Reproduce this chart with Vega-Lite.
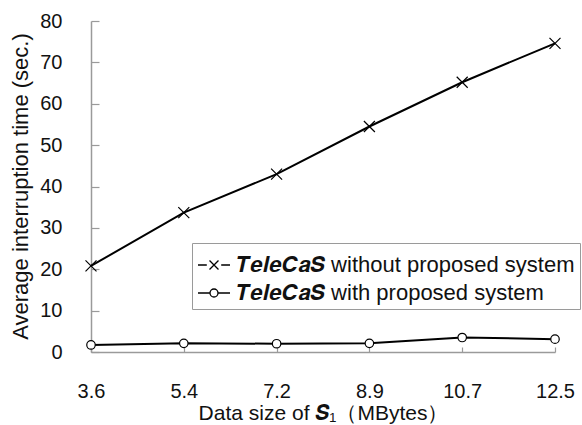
{
  "$schema": "https://vega.github.io/schema/vega-lite/v6.json",
  "width": 464,
  "height": 331,
  "autosize": {"type": "none"},
  "padding": {"left": 91, "top": 21, "right": 27, "bottom": 73},
  "background": "white",
  "config": {
    "view": {"stroke": null},
    "font": "Liberation Sans",
    "axis": {
      "grid": false,
      "domainColor": "#9a9a9a",
      "domainWidth": 1.5,
      "tickColor": "#9a9a9a",
      "tickWidth": 1.2,
      "labelFont": "Liberation Sans",
      "labelFontSize": 20,
      "labelColor": "#111111",
      "titleFont": "Liberation Sans",
      "titleFontSize": 21,
      "titleFontWeight": "normal",
      "titleColor": "#111111"
    }
  },
  "data": {
    "values": [
      {"size": "3.6", "series": "without", "time": 20.8},
      {"size": "5.4", "series": "without", "time": 33.7},
      {"size": "7.2", "series": "without", "time": 43.0},
      {"size": "8.9", "series": "without", "time": 54.5},
      {"size": "10.7", "series": "without", "time": 65.2},
      {"size": "12.5", "series": "without", "time": 74.6},
      {"size": "3.6", "series": "with", "time": 1.7},
      {"size": "5.4", "series": "with", "time": 2.1},
      {"size": "7.2", "series": "with", "time": 2.0},
      {"size": "8.9", "series": "with", "time": 2.1},
      {"size": "10.7", "series": "with", "time": 3.5},
      {"size": "12.5", "series": "with", "time": 3.1}
    ]
  },
  "encoding": {
    "x": {
      "field": "size",
      "type": "ordinal",
      "scale": {"type": "point", "padding": 0, "domain": ["3.6", "5.4", "7.2", "8.9", "10.7", "12.5"]},
      "axis": {
        "title": "Data size of 𝑺₁（MBytes）",
        "labelAngle": 0,
        "tickSize": -5,
        "labelPadding": 34,
        "titleX": 232,
        "titleY": 67,
        "titleBaseline": "alphabetic",
        "titleAnchor": "middle"
      }
    },
    "y": {
      "field": "time",
      "type": "quantitative",
      "scale": {"domain": [0, 80], "nice": false},
      "axis": {
        "title": "Average interruption time (sec.)",
        "values": [0, 10, 20, 30, 40, 50, 60, 70, 80],
        "tickSize": -8,
        "labelPadding": 37,
        "titleFontSize": 22,
        "titleX": -71,
        "titleY": 165,
        "titleBaseline": "middle",
        "titleAnchor": "middle"
      }
    }
  },
  "layer": [
    {
      "mark": {"type": "line", "color": "black", "strokeWidth": 2},
      "encoding": {"detail": {"field": "series"}}
    },
    {
      "mark": {"type": "point", "filled": false, "stroke": "black", "strokeWidth": 1.2, "opacity": 1},
      "encoding": {
        "shape": {
          "condition": {"test": "datum.series == 'without'", "value": "M-1,-1L1,1M-1,1L1,-1"},
          "value": "circle"
        },
        "size": {
          "condition": {"test": "datum.series == 'without'", "value": 121},
          "value": 72
        },
        "fill": {
          "condition": {"test": "datum.series == 'with'", "value": "white"},
          "value": "transparent"
        }
      }
    },
    {
      "mark": {"type": "point", "filled": false, "stroke": "black", "opacity": 0},
      "encoding": {
        "shape": {
          "field": "series",
          "scale": {
            "domain": ["without", "with"],
            "range": [
              "M-1,0L-0.45,0M0.45,0L1,0M-0.28,-0.28L0.28,0.28M-0.28,0.28L0.28,-0.28",
              "M-1,0L-0.25,0M0.25,0L1,0M-0.25,0A0.25,0.25 0 1,0 0.25,0A0.25,0.25 0 1,0 -0.25,0"
            ]
          },
          "legend": {
            "orient": "none",
            "legendX": 101,
            "legendY": 222,
            "title": null,
            "strokeColor": "#9a9a9a",
            "fillColor": "white",
            "padding": 5,
            "rowPadding": 0,
            "symbolSize": 1024,
            "symbolOpacity": 1,
            "symbolStrokeWidth": 1.3,
            "symbolStrokeColor": "black",
            "labelFont": "Liberation Sans",
            "labelFontSize": 22,
            "labelColor": "#111111",
            "labelLimit": 400,
            "labelOffset": 6,
            "labelExpr": "datum.value == 'without' ? '𝑻𝒆𝒍𝒆𝑪𝒂𝑺 without proposed system' : '𝑻𝒆𝒍𝒆𝑪𝒂𝑺 with proposed system'"
          }
        }
      }
    }
  ]
}
